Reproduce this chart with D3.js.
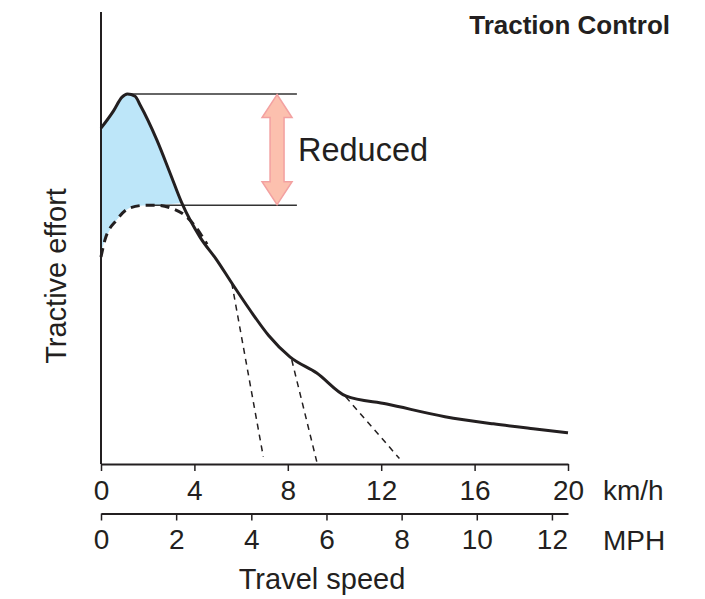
<!DOCTYPE html>
<html>
<head>
<meta charset="utf-8">
<script src="https://cdn.jsdelivr.net/npm/d3@7"></script>
<style>
  html, body { margin: 0; padding: 0; background: #fff; }
  svg { display: block; }
  text { font-family: "Liberation Sans", Arial, Helvetica, sans-serif; fill: #231f20; }
</style>
</head>
<body>
<svg id="chart" width="705" height="599"></svg>
<script>
// ---- data (speed in km/h, effort in relative units 0-100) ----
const kmhTicks = [0, 4, 8, 12, 16, 20];
const mphTicks = [0, 2, 4, 6, 8, 10, 12];

const solidSpeed  = [0, 0.53, 0.9, 1.13, 1.46, 1.67, 2.39, 2.96, 3.46, 4.24, 4.96, 5.60, 6.38, 7.17, 8.09, 9.24, 10.48, 12.24, 14.73, 16.80, 18.51, 20.0];
const solidEffort = [74.4, 78.2, 81.3, 82.0, 81.5, 79.6, 71.8, 64.4, 57.8, 50.2, 45.1, 40.0, 34.0, 28.4, 23.6, 20.0, 14.9, 13.1, 10.3, 8.7, 7.6, 6.7];

const dashSpeed  = [0, 0.17, 0.67, 1.24, 1.96, 2.39, 2.96, 3.67, 4.24, 4.54];
const dashEffort = [45.8, 49.6, 54.0, 56.7, 57.3, 57.3, 56.7, 54.7, 51.1, 48.6];

const dropStartSpeed  = [5.60, 8.17, 10.48];
const dropStartEffort = [40.0, 22.9, 14.7];
const dropEndSpeed    = [6.95, 9.24, 12.78];
const dropEndEffort   = [1.4, 0.3, 1.0];

const peakEffort = 82.0, reducedEffort = 57.3;
const refLineStart = [1.13, 2.0];
const refLineEnd = 8.39;
const arrowSpeed = 7.54;
const fillSolidMax = 3.46, fillDashMax = 2.39;

const titleText = "Traction Control";
const reducedText = "Reduced";
const yTitle = "Tractive effort";
const xTitle = "Travel speed";
const kmhUnit = "km/h", mphUnit = "MPH";
const KMH_PER_MPH = 1.609344;

// ---- layout ----
const svg = d3.select("#chart");
const ink = "#231f20";
const x = d3.scaleLinear().domain([0, 20]).range([101, 568]);
const xm = d3.scaleLinear().domain([0, 20 / KMH_PER_MPH]).range([101, 568]);
const y = d3.scaleLinear().domain([0, 100]).range([463, 13]);
const kmAxisY = 464, mphAxisY = 513.5;

const solid = solidSpeed.map((s, i) => [s, solidEffort[i]]);
const dashed = dashSpeed.map((s, i) => [s, dashEffort[i]]);

const line = d3.line().x(d => x(d[0])).y(d => y(d[1])).curve(d3.curveMonotoneX);

// blue fill between curves
const topPart = solid.filter(d => d[0] <= fillSolidMax);
const botPart = dashed.filter(d => d[0] <= fillDashMax).reverse();
const lineAny = d3.line().x(d => x(d[0])).y(d => y(d[1])).curve(d3.curveCatmullRom.alpha(0.5));
const fillPath = line(topPart) + "L" + lineAny(botPart).substring(1) + "Z";
svg.append("path").attr("d", fillPath).attr("fill", "#bde6f9").attr("stroke", "none");

// reference lines
svg.append("line").attr("x1", x(refLineStart[0])).attr("x2", x(refLineEnd))
  .attr("y1", y(peakEffort)).attr("y2", y(peakEffort)).attr("stroke", "#333").attr("stroke-width", 1.5);
svg.append("line").attr("x1", x(refLineStart[1])).attr("x2", x(refLineEnd))
  .attr("y1", y(reducedEffort)).attr("y2", y(reducedEffort)).attr("stroke", "#333").attr("stroke-width", 1.5);

// drop-off dashed lines
dropStartSpeed.forEach((s, i) => {
  svg.append("line")
    .attr("x1", x(s)).attr("y1", y(dropStartEffort[i]))
    .attr("x2", x(dropEndSpeed[i])).attr("y2", y(dropEndEffort[i]))
    .attr("stroke", ink).attr("stroke-width", 1.5).attr("stroke-dasharray", "6,5");
});

// dashed (no control) curve
svg.append("path").attr("d", line(dashed)).attr("fill", "none")
  .attr("stroke", ink).attr("stroke-width", 3).attr("stroke-dasharray", "9,6");

// solid curve
svg.append("path").attr("d", line(solid)).attr("fill", "none")
  .attr("stroke", ink).attr("stroke-width", 3).attr("stroke-linejoin", "round");

// double arrow
{
  const cx = x(arrowSpeed), t = y(peakEffort) + 0.5, b = y(reducedEffort) - 0.5;
  const hl = 23, hw = 15, sw = 7;
  const p = [
    [cx, t], [cx + hw, t + hl], [cx + sw, t + hl], [cx + sw, b - hl], [cx + hw, b - hl],
    [cx, b], [cx - hw, b - hl], [cx - sw, b - hl], [cx - sw, t + hl], [cx - hw, t + hl]
  ];
  svg.append("path").attr("d", "M" + p.map(d => d.join(",")).join("L") + "Z")
    .attr("fill", "#fcc0ae").attr("stroke", "#f3a1a1").attr("stroke-width", 1.5)
    .attr("stroke-linejoin", "miter");
}

// y axis line
svg.append("line").attr("x1", 101).attr("x2", 101).attr("y1", 12).attr("y2", kmAxisY)
  .attr("stroke", ink).attr("stroke-width", 2);

// x axes
function styleAxis(g) {
  g.select(".domain").attr("stroke", ink).attr("stroke-width", 2);
  g.selectAll(".tick line").attr("stroke", ink).attr("stroke-width", 1.5);
  g.selectAll(".tick text").style("font-size", "28px").attr("fill", ink)
    .style("font-family", '"Liberation Sans", Arial, Helvetica, sans-serif');
}
svg.append("g").attr("transform", `translate(0,${kmAxisY})`)
  .call(d3.axisBottom(x).tickValues(kmhTicks).tickSize(7).tickSizeOuter(0).tickPadding(9))
  .call(styleAxis);
svg.append("g").attr("transform", `translate(0,${mphAxisY})`)
  .call(d3.axisBottom(xm).tickValues(mphTicks).tickSize(7).tickSizeOuter(0).tickPadding(9))
  .call(styleAxis);

// texts
svg.append("text").attr("x", 603).attr("y", 500).style("font-size", "28px").text(kmhUnit);
svg.append("text").attr("x", 603).attr("y", 550).style("font-size", "28px").text(mphUnit);
svg.append("text").attr("x", 322).attr("y", 589).attr("text-anchor", "middle").style("font-size", "29px").text(xTitle);
svg.append("text").attr("transform", "translate(66,276) rotate(-90)").attr("text-anchor", "middle")
  .style("font-size", "29px").text(yTitle);
svg.append("text").attr("x", 670).attr("y", 34).attr("text-anchor", "end")
  .style("font-size", "26px").style("font-weight", "bold").text(titleText);
svg.append("text").attr("x", 298).attr("y", 161).style("font-size", "32.5px").text(reducedText);
</script>
</body>
</html>
